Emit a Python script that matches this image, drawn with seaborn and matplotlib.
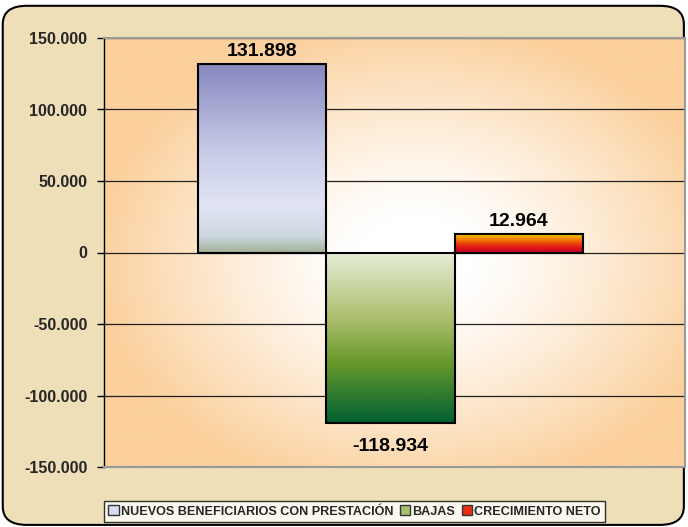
import numpy as np
import pandas as pd
import matplotlib
matplotlib.use("Agg")
import matplotlib.pyplot as plt
import matplotlib.ticker as mtick
from matplotlib.colors import LinearSegmentedColormap, to_rgb
from matplotlib.patches import FancyBboxPatch, Patch
import seaborn as sns

# data
series = ["NUEVOS BENEFICIARIOS CON PRESTACIÓN", "BAJAS", "CRECIMIENTO NETO"]
values = [131898, -118934, 12964]
yticks = [-150000, -100000, -50000, 0, 50000, 100000, 150000]

# bottom -> top colour ramps for every bar
ramps = {
    "NUEVOS BENEFICIARIOS CON PRESTACIÓN": [(0, "#a5b39b"), (0.08, "#cdd8e0"), (0.25, "#e0e4f4"),
                                            (0.55, "#c6c9e6"), (1, "#8686be")],
    "BAJAS": [(0, "#006030"), (0.2, "#3a8030"), (0.35, "#67982a"), (0.6, "#a9bd6a"), (1, "#e6eed8")],
    "CRECIMIENTO NETO": [(0, "#c8002a"), (0.3, "#e42012"), (0.65, "#f07a00"), (1, "#f8da00")],
}
legend_colors = ["#d8dcf0", "#a8c070", "#e83010"]

sns.set_theme(style="white")
plt.rcParams["font.family"] = ["Liberation Sans", "DejaVu Sans"]
plt.rcParams["font.weight"] = "bold"

fig = plt.figure(figsize=(6.88, 5.27), dpi=100, facecolor="white")

# parchment frame
frame = FancyBboxPatch((0.004, 0.004), 0.99, 0.985, boxstyle="round,pad=0,rounding_size=0.035",
                       transform=fig.transFigure, facecolor="#eedfb9", edgecolor="black",
                       linewidth=1.5, zorder=-5)
fig.patches.append(frame)

ax = fig.add_axes([104 / 688, 60 / 527, 581 / 688, 429 / 527])
ax.set_facecolor("none")
ax.set_zorder(2)

df = pd.DataFrame({"cat": [""] * 3, "serie": series, "valor": values})
sns.barplot(data=df, x="cat", y="valor", hue="serie", hue_order=series, width=0.662,
            dodge=True, legend=False, ax=ax, errorbar=None, zorder=3)

XLIM = (-0.493, 0.507)
ax.set_xlim(*XLIM)
ax.set_ylim(-150000, 150000)

# plot area radial gradient
gx, gy = np.meshgrid(np.linspace(XLIM[0], XLIM[1], 300), np.linspace(-150000, 150000, 300))
r = np.sqrt(((gx - 0.04) / 0.56) ** 2 + ((gy + 5000) / 170000) ** 2)
t = np.clip((r - 0.18) / 0.8, 0, 1) ** 1.2
peach = np.array(to_rgb("#fbd09c"))
bg = (1 - t[..., None]) * np.ones(3) + t[..., None] * peach
ax.imshow(bg, extent=(XLIM[0], XLIM[1], -150000, 150000), origin="lower", aspect="auto", zorder=0)

# gradient fills on the bars
for patch, name in zip(ax.patches, series):
    x0 = patch.get_x()
    x1 = x0 + patch.get_width()
    y0 = min(patch.get_y(), patch.get_y() + patch.get_height())
    y1 = max(patch.get_y(), patch.get_y() + patch.get_height())
    cmap = LinearSegmentedColormap.from_list(name, ramps[name])
    grad = np.linspace(0, 1, 256).reshape(-1, 1)
    ax.imshow(grad, cmap=cmap, extent=(x0, x1, y0, y1), origin="lower", aspect="auto", zorder=2)
    patch.set_facecolor("none")
    patch.set_edgecolor("black")
    patch.set_linewidth(1.5)

ax.set_xlim(*XLIM)
ax.set_ylim(-150000, 150000)

for v in yticks:
    ax.axhline(v, color="#222222", linewidth=0.9, zorder=1)

# value labels
fmt = lambda v: f"{v:,.0f}".replace(",", ".")
for patch, v in zip(ax.patches, values):
    xc = patch.get_x() + patch.get_width() / 2
    if v >= 0:
        ax.text(xc, v + 2500, fmt(v), ha="center", va="bottom", fontsize=14, fontweight="bold",
                color="black", zorder=5)
    else:
        ax.text(xc, v - 10500, fmt(v), ha="center", va="top", fontsize=14, fontweight="bold",
                color="black", zorder=5)

ax.set_yticks(yticks)
ax.yaxis.set_major_formatter(mtick.FuncFormatter(lambda v, p: fmt(v)))
ax.tick_params(axis="y", which="major", direction="out", length=5, width=1, color="black",
               labelsize=11.5, pad=7, left=True)
for lab in ax.get_yticklabels():
    lab.set_fontweight("bold")
ax.set_xticks([])
ax.set_xlabel("")
ax.set_ylabel("")

for side in ["top", "right", "bottom"]:
    ax.spines[side].set_color("#999999")
    ax.spines[side].set_linewidth(1.5)
ax.spines["left"].set_color("black")
ax.spines["left"].set_linewidth(1)

handles = [Patch(facecolor=c, edgecolor="#333333", linewidth=1) for c in legend_colors]
leg = fig.legend(handles, series, loc="lower left", bbox_to_anchor=(104 / 688, 5 / 527), ncol=3,
                 frameon=True, fancybox=False, fontsize=9.1, handlelength=0.8, handleheight=0.8,
                 handletextpad=0.2, columnspacing=0.5, borderpad=0.35, borderaxespad=0)
leg.get_frame().set_edgecolor("black")
leg.get_frame().set_linewidth(1)
leg.get_frame().set_facecolor("white")
for txt in leg.get_texts():
    txt.set_fontweight("bold")

fig.savefig("out.png", dpi=100, facecolor="white")
